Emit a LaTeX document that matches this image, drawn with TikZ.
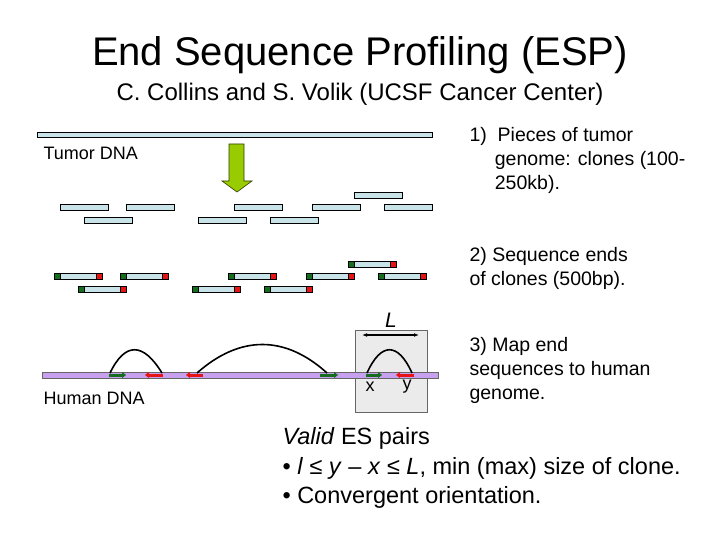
\documentclass[tikz,border=0pt]{standalone}
\usepackage{fontspec}
\setmainfont{Liberation Sans}
\usetikzlibrary{arrows.meta}
\definecolor{clonefill}{RGB}{200,228,232}
\definecolor{humanfill}{RGB}{200,160,240}
\definecolor{arrowgreen}{RGB}{153,204,0}
\definecolor{endgreen}{RGB}{20,110,30}
\definecolor{endred}{RGB}{230,20,20}
\begin{document}
\begin{tikzpicture}[x=1pt,y=-1pt,
        clone/.style={draw, fill=clonefill, line width=0.8pt},
        endmark/.style={draw, line width=0.6pt},
        label/.style={anchor=west, font=\fontsize{18}{22}\selectfont},
        note/.style={anchor=north west, align=left, font=\fontsize{19.5}{24}\selectfont},
        arc/.style={line width=1.6pt},
        fwd/.style={-{Triangle[length=4pt,width=6pt]}, line width=3pt, endgreen},
        rev/.style={-{Triangle[length=4pt,width=6pt]}, line width=3pt, endred}
    ]
    \useasboundingbox (0,0) rectangle (720,540);
    % Title
    \node[font=\fontsize{40}{44}\selectfont] (title) at (360,55) {End Sequence Profiling (ESP)};
    \node[font=\fontsize{24}{28}\selectfont] (authors) at (360,94) {C. Collins and S. Volik (UCSF Cancer Center)};
    % Tumor DNA
    \draw[clone] (37,132) rectangle (432,137);
    \node[label] (tumor) at (40,153) {Tumor DNA};
    \draw[draw=black!70!arrowgreen, fill=arrowgreen, line width=0.6pt]
        (229,144) -- (244,144) -- (244,181) -- (252,181) -- (237,192) -- (222,181) -- (229,181) -- cycle;
    % Clones
    \foreach \cx/\cy in {354/192, 60/204, 126/204, 234/204, 312/204, 384/204, 84/217, 198/217, 270/217}
        \draw[clone] (\cx,\cy) rectangle ++(48,6);
    % Clones with sequenced ends
    \foreach \cx/\cy in {354/192, 60/204, 126/204, 234/204, 312/204, 384/204, 84/217, 198/217, 270/217} {
        \draw[clone] (\cx,\cy+69) rectangle ++(36,6);
        \draw[endmark, fill=endgreen] (\cx-6,\cy+69) rectangle ++(6,6);
        \draw[endmark, fill=endred] (\cx+36,\cy+69) rectangle ++(6,6);
    }
    % Human DNA
    \draw[fill=black!8, draw=black!60, line width=0.4pt] (355,330) rectangle (427,412);
    \draw[draw=black!60, fill=humanfill, line width=0.6pt] (42,372) rectangle (438,378);
    \node[label] (human) at (40,398) {Human DNA};
    \draw[arc] (110,373) .. controls (125,342) and (143,342) .. (162,373);
    \draw[arc] (197,373) .. controls (240,335) and (285,335) .. (327,373);
    \draw[arc] (367,373) .. controls (381,342) and (398,342) .. (412,373);
    \draw[fwd] (109,375) -- (126,375);
    \draw[rev] (163,375) -- (145,375);
    \draw[rev] (203,375) -- (186,375);
    \draw[fwd] (320,375) -- (338,375);
    \draw[fwd] (366,375) -- (382,375);
    \draw[rev] (414,375) -- (396,375);
    \draw[{Latex[length=5pt]}-{Latex[length=5pt]}, line width=1.6pt] (362,335) -- (419,335);
    \node[font=\fontsize{21}{24}\selectfont\itshape] (L) at (391,320) {L};
    \node[font=\fontsize{18}{22}\selectfont] (x) at (370,387) {x};
    \node[font=\fontsize{18}{22}\selectfont] (y) at (407,387) {y};
    % Notes
    \node[note] (step1) at (466,124) {1)\ \ Pieces of tumor\\\hspace{1.3em}genome: clones (100-\\\hspace{1.3em}250kb).};
    \node[note] (step2) at (466,244) {2) Sequence ends\\of clones (500bp).};
    \node[note] (step3) at (466,334) {3) Map end\\sequences to human\\genome.};
    \node[anchor=north west, align=left, font=\fontsize{23.5}{29.5}\selectfont] (valid) at (279,424)
        {\textit{Valid} ES pairs\\• \textit{l} ≤ \textit{y} – \textit{x} ≤ \textit{L}, min (max) size of clone.\\• Convergent orientation.};
\end{tikzpicture}
\end{document}
